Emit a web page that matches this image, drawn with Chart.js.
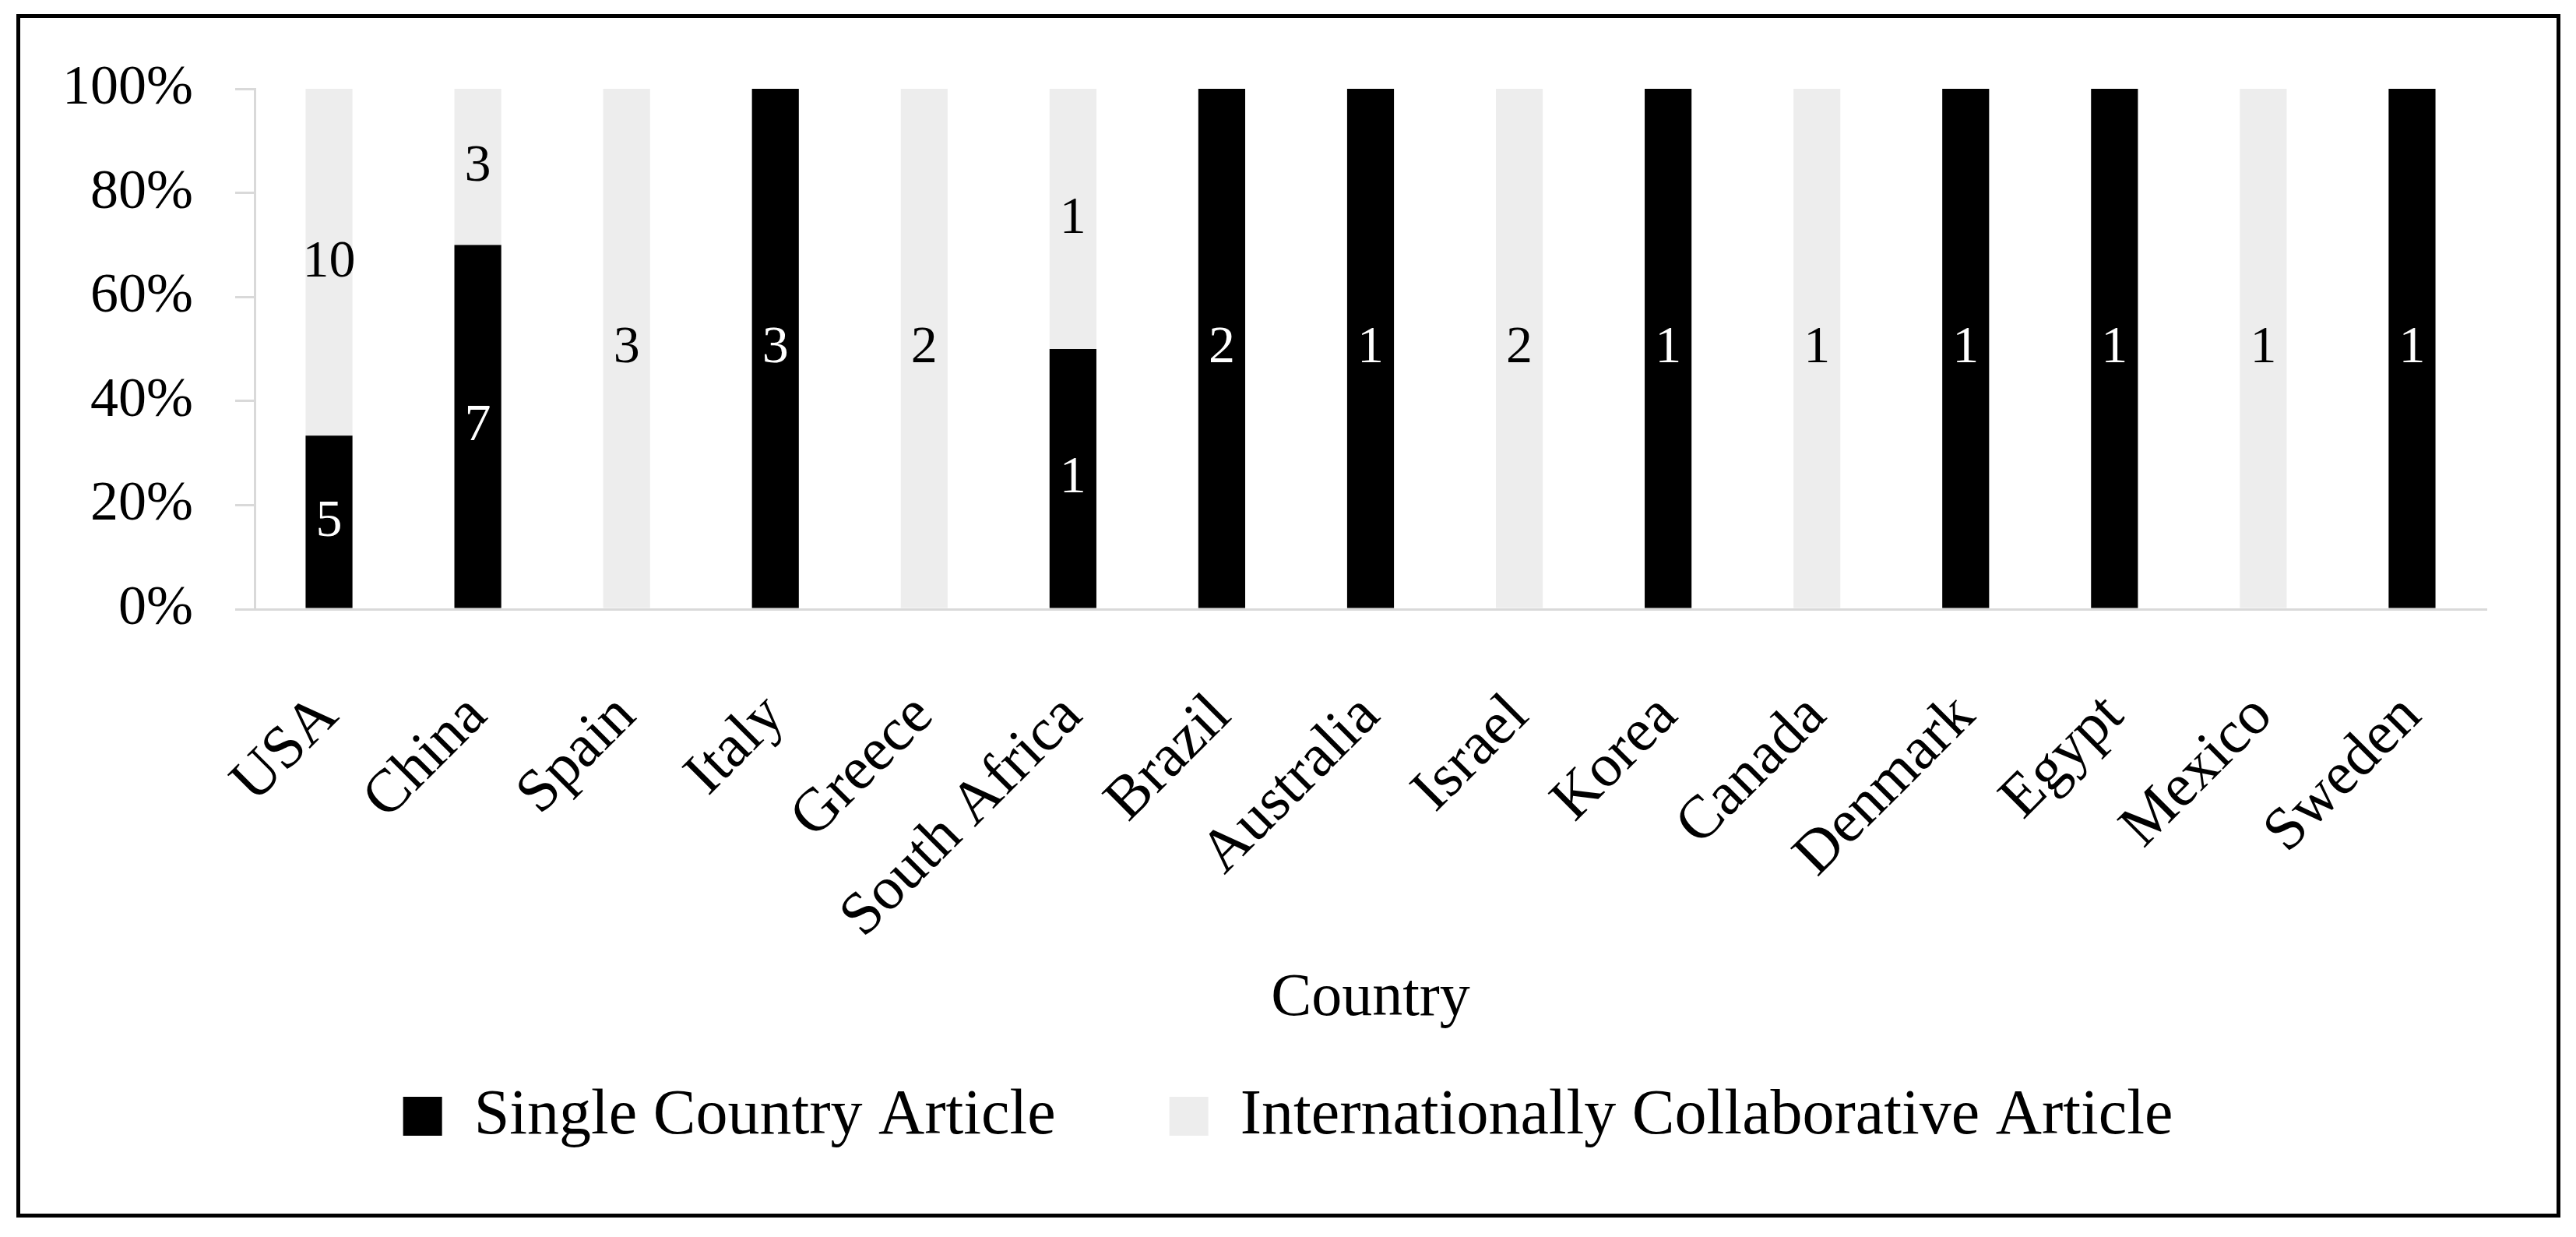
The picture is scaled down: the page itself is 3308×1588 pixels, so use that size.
<!DOCTYPE html>
<html>
<head>
<meta charset="utf-8">
<script src="https://cdn.jsdelivr.net/npm/chart.js@4/dist/chart.umd.min.js"></script>
<style>
  html, body { margin: 0; padding: 0; background: #ffffff; }
  #wrap { width: 3308px; height: 1588px; position: relative; }
  canvas { display: block; }
</style>
</head>
<body>
<div id="wrap"><canvas id="c" width="3308" height="1588"></canvas></div>
<script>
// ---- data ----
const categories = ['USA', 'China', 'Spain', 'Italy', 'Greece', 'South Africa', 'Brazil', 'Australia', 'Israel', 'Korea', 'Canada', 'Denmark', 'Egypt', 'Mexico', 'Sweden'];
const seriesNames = ['Single Country Article', 'Internationally Collaborative Article'];
const singleCountry = [5, 7, 0, 3, 0, 1, 2, 1, 0, 1, 0, 1, 1, 0, 1];
const intlCollab = [10, 3, 3, 0, 2, 1, 0, 0, 2, 0, 1, 0, 0, 1, 0];
const yTickValues = [0, 20, 40, 60, 80, 100];
const xAxisTitle = 'Country';

// ---- derived (100% stacking) ----
const totals = categories.map((_, i) => singleCountry[i] + intlCollab[i]);
const singlePct = singleCountry.map((v, i) => totals[i] ? v / totals[i] * 100 : 0);
const intlPct = intlCollab.map((v, i) => totals[i] ? v / totals[i] * 100 : 0);
const rawCounts = [singleCountry, intlCollab];

const FONT = "'Liberation Serif', 'Times New Roman', serif";
const AXIS_GRAY = '#d9d9d9';

const frame = {
  id: 'frame',
  afterDraw(chart) {
    const ctx = chart.ctx;
    ctx.save();
    ctx.strokeStyle = '#000';
    ctx.lineWidth = 5;
    ctx.strokeRect(23.5, 20.5, 3262, 1540);
    ctx.restore();
  }
};

const valueLabels = {
  id: 'valueLabels',
  afterDatasetsDraw(chart) {
    const ctx = chart.ctx;
    ctx.save();
    ctx.font = '68px ' + FONT;
    ctx.textAlign = 'center';
    ctx.textBaseline = 'middle';
    chart.data.datasets.forEach((ds, di) => {
      const meta = chart.getDatasetMeta(di);
      meta.data.forEach((bar, j) => {
        const v = rawCounts[di][j];
        if (!v) return;
        const p = bar.getProps(['x', 'y', 'base'], true);
        ctx.fillStyle = di === 0 ? '#ffffff' : '#000000';
        ctx.fillText(String(v), p.x, (p.y + p.base) / 2);
      });
    });
    ctx.restore();
  }
};

Chart.defaults.color = '#000000';
Chart.defaults.font.family = FONT;

new Chart(document.getElementById('c'), {
  type: 'bar',
  data: {
    labels: categories,
    datasets: [
      { label: seriesNames[0], data: singlePct, backgroundColor: '#000000', borderWidth: 0 },
      { label: seriesNames[1], data: intlPct, backgroundColor: '#ededed', borderWidth: 0 }
    ]
  },
  options: {
    responsive: false,
    animation: false,
    devicePixelRatio: 1,
    layout: { padding: { left: 0, right: 0, top: 114, bottom: 104 } },
    datasets: { bar: { categoryPercentage: 1.0, barPercentage: 0.315 } },
    plugins: {
      tooltip: { enabled: false },
      legend: {
        position: 'bottom',
        labels: {
          font: { size: 82, family: FONT },
          color: '#000',
          boxWidth: 50,
          boxHeight: 50,
          padding: 146
        }
      }
    },
    scales: {
      x: {
        stacked: true,
        grid: { display: false },
        border: { display: true, color: AXIS_GRAY, width: 3 },
        ticks: {
          font: { size: 78, family: FONT },
          color: '#000',
          minRotation: 45,
          maxRotation: 45,
          autoSkip: false,
          padding: 84
        },
        title: {
          display: true,
          text: xAxisTitle,
          font: { size: 78, family: FONT },
          color: '#000',
          padding: { top: 0, bottom: -83 }
        },
        afterFit(scale) {
          scale.height = 464;
          scale.paddingRight = 115;
        }
      },
      y: {
        stacked: true,
        min: 0,
        max: 100,
        afterBuildTicks(scale) { scale.ticks = yTickValues.map(v => ({ value: v })); },
        ticks: {
          font: { size: 72, family: FONT },
          color: '#000',
          padding: 54,
          callback: (v) => v + '%'
        },
        grid: {
          display: true,
          drawOnChartArea: false,
          drawTicks: true,
          tickLength: 25,
          color: AXIS_GRAY,
          lineWidth: 3
        },
        border: { display: true, color: AXIS_GRAY, width: 3 },
        afterFit(scale) { scale.width = 327; }
      }
    }
  },
  plugins: [valueLabels, frame]
});
</script>
</body>
</html>
